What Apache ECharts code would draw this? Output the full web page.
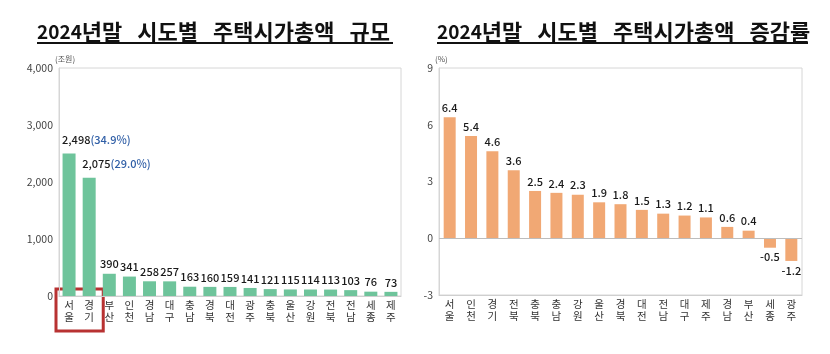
<!DOCTYPE html>
<html>
<head>
<meta charset="utf-8">
<script src="https://cdn.jsdelivr.net/npm/echarts@6/dist/echarts.min.js"></script>
<style>
  html, body { margin: 0; padding: 0; background: #fff; }
  #main { width: 830px; height: 354px; }
</style>
</head>
<body>
<div id="main"></div>
<script>
  // 시도별 주택시가총액 규모 (조원)
  var sizeRegions = ['서울', '경기', '부산', '인천', '경남', '대구', '충남', '경북', '대전', '광주', '충북', '울산', '강원', '전북', '전남', '세종', '제주'];
  var sizeValues  = [2498, 2075, 390, 341, 258, 257, 163, 160, 159, 141, 121, 115, 114, 113, 103, 76, 73];
  var sizeShares  = [34.9, 29.0];   // 전국 대비 비중 (%), 서울/경기만 표기
  var sizeTicks   = [0, 1000, 2000, 3000, 4000];

  // 시도별 주택시가총액 증감률 (%)
  var rateRegions = ['서울', '인천', '경기', '전북', '충북', '충남', '강원', '울산', '경북', '대전', '전남', '대구', '제주', '경남', '부산', '세종', '광주'];
  var rateValues  = [6.4, 5.4, 4.6, 3.6, 2.5, 2.4, 2.3, 1.9, 1.8, 1.5, 1.3, 1.2, 1.1, 0.6, 0.4, -0.5, -1.2];
  var rateTicks   = [-3, 0, 3, 6, 9];

  var FONT = '"Noto Sans CJK KR", "Noto Sans", sans-serif';
  var GREEN = '#6ec49b';
  var ORANGE = '#f1a874';

  var myChart = echarts.init(document.getElementById('main'));

  function stackChars(s) {
    return s.split('').join('\n');
  }

  var sizeData = sizeValues.map(function (v, i) {
    if (i < sizeShares.length) {
      return { value: v, label: { align: 'left', offset: [-7, -4] } };
    }
    return v;
  });

  var rateData = rateValues.map(function (v) {
    if (v < 0) return { value: v, label: { position: 'bottom' } };
    return v;
  });

  var catLabel = {
    interval: 0,
    rotate: 0,
    hideOverlap: false,
    margin: 3,
    fontSize: 10.5,
    lineHeight: 12,
    color: '#333',
    fontFamily: FONT,
    formatter: stackChars
  };

  var titleRich = {
    d: { fontSize: 19, fontWeight: 'bold', color: '#111', fontFamily: FONT },
    h: { fontSize: 22, fontWeight: 'bold', color: '#111', fontFamily: FONT }
  };

  var option = {
    animation: false,
    textStyle: { fontFamily: FONT },
    title: [
      {
        text: '{d|2024}{h|년말   시도별   주택시가총액   규모}',
        left: 37, top: 21, padding: 0,
        textStyle: { rich: titleRich }
      },
      {
        text: '{d|2024}{h|년말   시도별   주택시가총액   증감률}',
        left: 437, top: 21, padding: 0,
        textStyle: { rich: titleRich }
      }
    ],
    grid: [
      { left: 59, right: 429, top: 68, bottom: 58, show: true, borderColor: '#d6d6d6', borderWidth: 1 },
      { left: 439, right: 28, top: 68, bottom: 59, show: true, borderColor: '#d6d6d6', borderWidth: 1 }
    ],
    xAxis: [
      {
        type: 'category', gridIndex: 0, data: sizeRegions,
        axisLine: { lineStyle: { color: '#cfcfcf' } },
        axisTick: { show: false },
        axisLabel: catLabel
      },
      {
        type: 'category', gridIndex: 1, data: rateRegions,
        axisLine: { onZero: false, lineStyle: { color: '#cfcfcf' } },
        axisTick: { show: false },
        axisLabel: catLabel
      }
    ],
    yAxis: [
      {
        type: 'value', gridIndex: 0,
        min: sizeTicks[0], max: sizeTicks[sizeTicks.length - 1], interval: 1000,
        name: '(조원)', nameLocation: 'end', nameGap: 4,
        nameTextStyle: { fontSize: 8, color: '#555', align: 'left', padding: [0, 0, 0, -4], fontFamily: FONT },
        axisLine: { show: true, lineStyle: { color: '#d6d6d6' } },
        axisTick: { show: false },
        splitLine: { show: false },
        axisLabel: {
          margin: 6, fontSize: 10.5, color: '#444', fontFamily: FONT,
          formatter: function (v) { return v.toLocaleString('en-US'); }
        }
      },
      {
        type: 'value', gridIndex: 1,
        min: rateTicks[0], max: rateTicks[rateTicks.length - 1], interval: 3,
        name: '(%)', nameLocation: 'end', nameGap: 5,
        nameTextStyle: { fontSize: 8, color: '#555', align: 'left', padding: [0, 0, 0, -4], fontFamily: FONT },
        axisLine: { show: true, lineStyle: { color: '#d6d6d6' } },
        axisTick: { show: false },
        splitLine: { show: false },
        axisLabel: { margin: 6, fontSize: 10.5, color: '#444', fontFamily: FONT }
      }
    ],
    series: [
      {
        name: '규모', type: 'bar', xAxisIndex: 0, yAxisIndex: 0,
        data: sizeData, barWidth: 13,
        itemStyle: { color: GREEN },
        label: {
          show: true, position: 'top', distance: 4,
          fontSize: 11, fontWeight: 500, color: '#1a1a1a', fontFamily: FONT,
          formatter: function (p) {
            var txt = p.value.toLocaleString('en-US');
            if (p.dataIndex < sizeShares.length) {
              txt += '{pct|(' + sizeShares[p.dataIndex].toFixed(1) + '%)}';
            }
            return txt;
          },
          rich: { pct: { fontSize: 11, fontWeight: 500, color: '#2f5ea6', fontFamily: FONT } }
        }
      },
      {
        name: '증감률', type: 'bar', xAxisIndex: 1, yAxisIndex: 1,
        data: rateData, barWidth: 12,
        itemStyle: { color: ORANGE },
        label: {
          show: true, position: 'top', distance: 4,
          fontSize: 11, fontWeight: 500, color: '#1a1a1a', fontFamily: FONT,
          formatter: function (p) { return p.value.toFixed(1); }
        },
        markLine: {
          silent: true, symbol: 'none', label: { show: false },
          lineStyle: { color: '#bdbdbd', type: 'solid', width: 1 },
          data: [{ yAxis: 0 }]
        }
      }
    ]
  };

  myChart.setOption(option);

  // 제목 밑줄과 서울·경기 강조 박스
  var p0 = myChart.convertToPixel({ gridIndex: 0 }, [0, 0]);
  var p1 = myChart.convertToPixel({ gridIndex: 0 }, [1, 0]);
  var band = p1[0] - p0[0];
  myChart.setOption({
    graphic: [
      { type: 'line', shape: { x1: 37, y1: 43, x2: 393, y2: 43 }, style: { stroke: '#111', lineWidth: 2 } },
      { type: 'line', shape: { x1: 437, y1: 43, x2: 808, y2: 43 }, style: { stroke: '#111', lineWidth: 2 } },
      {
        type: 'rect',
        shape: { x: p0[0] - band / 2 - 3, y: p0[1] - 7, width: band * 2 + 7, height: 42 },
        style: { fill: 'none', stroke: '#b83232', lineWidth: 3 }
      }
    ]
  });
</script>
</body>
</html>
